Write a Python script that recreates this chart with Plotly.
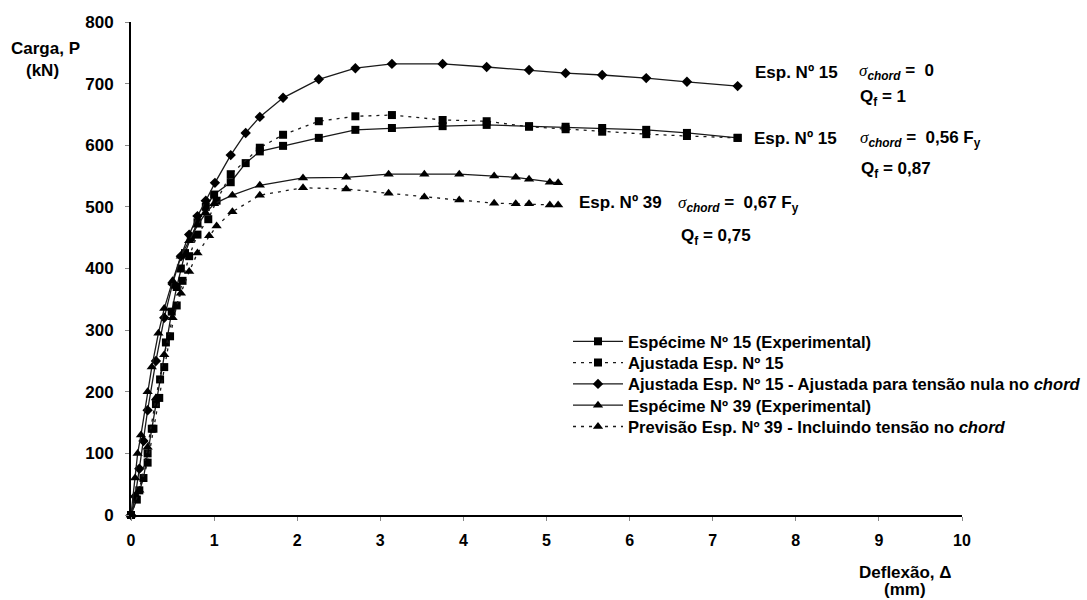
import plotly.graph_objects as go

# Deflexão (mm) e carga (kN) de cada série
esp15_exp_x = [0, 0.07, 0.15, 0.2, 0.25, 0.3, 0.35, 0.42, 0.49, 0.55, 0.6, 0.65, 0.72, 0.8, 0.9, 1.0,
               1.2, 1.38, 1.55, 1.83, 2.26, 2.70, 3.14, 3.75, 4.28, 4.79, 5.23, 5.67, 6.20, 6.69, 7.30]
esp15_exp_y = [0, 25, 60, 100, 140, 180, 220, 280, 330, 370, 400, 425, 450, 475, 500, 520,
               540, 571, 590, 599, 612, 625, 628, 631, 633, 631, 630, 628, 625, 620, 612]

ajust15_x = [0, 0.1, 0.2, 0.27, 0.34, 0.4, 0.47, 0.55, 0.62, 0.7, 0.8, 0.93, 1.03, 1.2,
             1.55, 1.83, 2.26, 2.70, 3.14, 3.75, 4.28, 4.79, 5.23, 5.67, 6.20, 6.69, 7.30]
ajust15_y = [0, 40, 85, 140, 190, 240, 290, 340, 380, 420, 455, 480, 510, 553,
             596, 617, 639, 647, 649, 641, 639, 630, 626, 622, 618, 615, 612]

nula15_x = [0, 0.05, 0.1, 0.15, 0.2, 0.3, 0.4, 0.5, 0.6, 0.7, 0.8, 0.9, 1.01, 1.20, 1.38, 1.55,
            1.83, 2.26, 2.70, 3.14, 3.75, 4.28, 4.79, 5.23, 5.67, 6.20, 6.69, 7.30]
nula15_y = [0, 30, 75, 120, 170, 250, 320, 375, 420, 455, 485, 510, 539, 584, 620, 646,
            677, 707, 725, 732, 732, 727, 722, 717, 714, 709, 703, 696]

esp39_exp_x = [0, 0.05, 0.08, 0.12, 0.2, 0.25, 0.33, 0.4, 0.5, 0.6, 0.7, 0.8, 0.9, 1.0, 1.22,
               1.55, 2.07, 2.59, 3.10, 3.53, 3.95, 4.37, 4.63, 4.79, 5.04, 5.14]
esp39_exp_y = [0, 60, 100, 130, 200, 240, 295, 335, 380, 420, 445, 470, 490, 505, 519,
               535, 547, 548, 553, 553, 553, 550, 548, 545, 540, 539]

prev39_x = [0, 0.1, 0.2, 0.3, 0.4, 0.5, 0.6, 0.7, 0.8, 0.94, 1.03, 1.22, 1.55, 2.07, 2.59,
            3.10, 3.53, 3.95, 4.37, 4.63, 4.79, 5.04, 5.14]
prev39_y = [0, 40, 110, 190, 260, 320, 360, 395, 425, 453, 469, 492, 519, 531, 529,
            522, 516, 511, 506, 505, 505, 503, 503]

x_ticks = [0, 1, 2, 3, 4, 5, 6, 7, 8, 9, 10]
y_ticks = [0, 100, 200, 300, 400, 500, 600, 700, 800]

FONT = "Liberation Sans, Arial, sans-serif"
W, H = 1087, 600
L, R, T, B = 131, 962, 22, 515  # plot area in pixels

def px(xp):
    return (xp - L) / (R - L)

def py(yp):
    return (B - yp) / (B - T)

DOT = "3px,5px"
series = [
    ("Espécime Nº 15 (Experimental)", esp15_exp_x, esp15_exp_y, "solid", "square", 8),
    ("Ajustada Esp. Nº 15", ajust15_x, ajust15_y, DOT, "square", 8),
    ("Ajustada Esp. Nº 15 - Ajustada para tensão nula no <i>chord</i>", nula15_x, nula15_y, "solid", "diamond", 8),
    ("Espécime Nº 39 (Experimental)", esp39_exp_x, esp39_exp_y, "solid", "triangle-up", 9),
    ("Previsão Esp. Nº 39 - Incluindo tensão no <i>chord</i>", prev39_x, prev39_y, DOT, "triangle-up", 9),
]

fig = go.Figure()
legend_layout = {}
ROW0, ROW_STEP = 342, 21.3  # legend row centres (px)
for i, (name, xs, ys, dash, sym, size) in enumerate(series):
    key = "legend" if i == 0 else f"legend{i + 1}"
    fig.add_trace(go.Scatter(
        x=xs, y=ys, name=name, mode="lines+markers",
        line=dict(color="#1a1a1a", width=1.3, dash=dash),
        marker=dict(symbol=sym, size=size, color="black"),
        cliponaxis=False, legend=key,
    ))
    legend_layout[key] = dict(
        x=px(568), y=py(ROW0 + i * ROW_STEP - 18), xanchor="left", yanchor="top",
        bgcolor="rgba(0,0,0,0)", borderwidth=0, itemwidth=50,
        font=dict(family=FONT, size=16.6, color="black", weight="bold"),
    )

fig.update_xaxes(range=[0, 10], tickvals=x_ticks, ticktext=[str(v) for v in x_ticks],
                 showgrid=False, zeroline=False, showline=True, linecolor="black", linewidth=1.5,
                 ticks="outside", ticklen=4, tickcolor="#888", ticklabelstandoff=6,
                 tickfont=dict(family=FONT, size=16, color="black", weight="bold"))
fig.update_yaxes(range=[0, 800], tickvals=y_ticks, ticktext=[str(v) for v in y_ticks],
                 showgrid=False, zeroline=False, showline=True, linecolor="black", linewidth=2,
                 ticks="outside", ticklen=4, tickcolor="#888", ticklabelstandoff=8,
                 tickfont=dict(family=FONT, size=17, color="black", weight="bold"))

SIG = "<span style='font-family:Liberation Serif;font-weight:normal'><i>σ</i></span><sub><i>chord</i></sub>"
notes = [
    ("Carga, P", 45, 48, "center"),
    ("(kN)", 42, 70, "center"),
    ("Deflexão, Δ", 905, 572, "center"),
    ("(mm)", 905, 589, "center"),
    ("Esp. Nº 15", 753, 72, "left"),
    (SIG + " =  0", 857, 72, "left"),
    ("Q<sub>f</sub> = 1", 858, 98, "left"),
    ("Esp. Nº 15", 752, 138, "left"),
    (SIG + " =  0,56 F<sub>y</sub>", 858, 139, "left"),
    ("Q<sub>f</sub> = 0,87", 859, 170, "left"),
    ("Esp. Nº 39", 577, 202, "left"),
    (SIG + " =  0,67 F<sub>y</sub>", 676, 204, "left"),
    ("Q<sub>f</sub> = 0,75", 679, 237, "left"),
]
for text, x0, y0, anchor in notes:
    fig.add_annotation(text=text, xref="paper", yref="paper", x=px(x0), y=py(y0),
                       xanchor=anchor, yanchor="middle", showarrow=False,
                       font=dict(family=FONT, size=17, color="black", weight="bold"))

fig.update_layout(
    width=W, height=H,
    margin=dict(l=L, r=W - R, t=T, b=H - B, pad=0, autoexpand=False),
    paper_bgcolor="white", plot_bgcolor="white",
    showlegend=True,
    **legend_layout,
)

fig.write_html("out.html")
